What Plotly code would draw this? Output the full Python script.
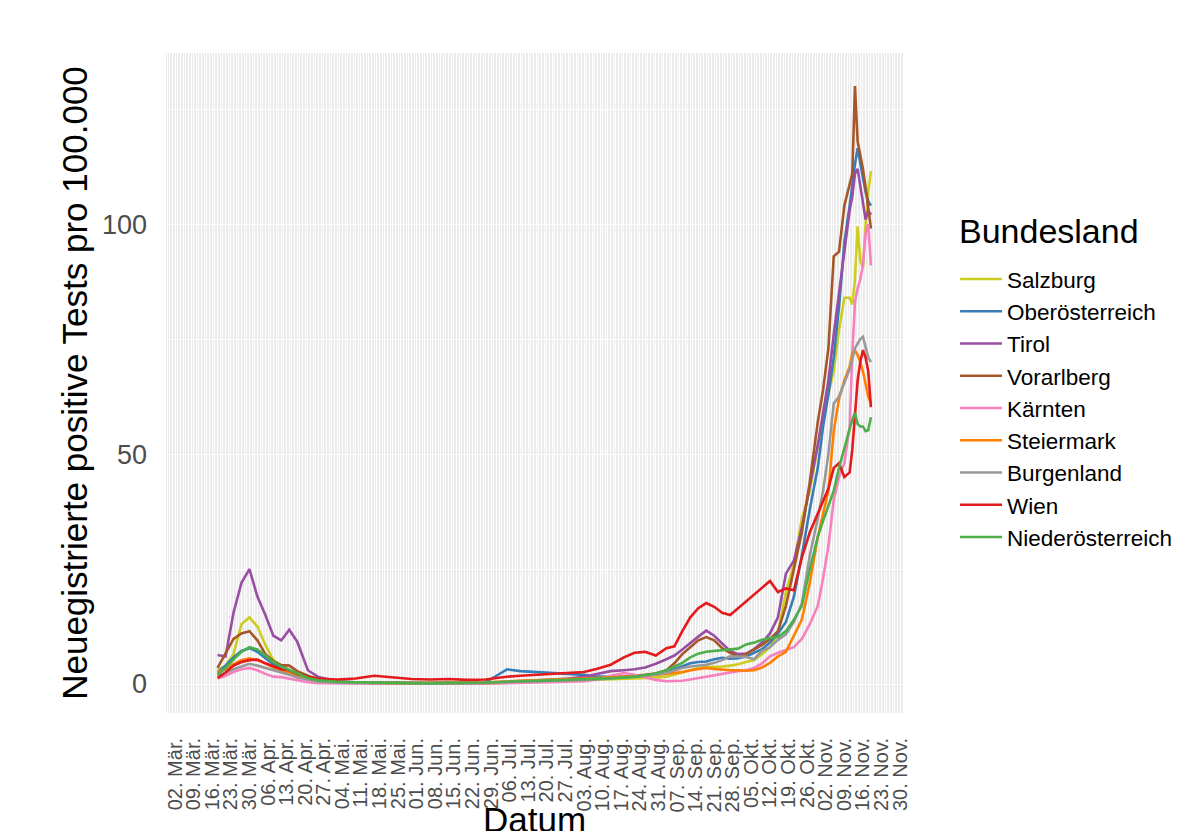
import pandas as pd
import plotly.graph_objects as go


# ── Data (7-day new positive tests per 100.000) ──────────────────────────────

dates = [
    '2020-03-18', '2020-03-21', '2020-03-24', '2020-03-27', '2020-03-30',
    '2020-04-02', '2020-04-05', '2020-04-08', '2020-04-11', '2020-04-14',
    '2020-04-17', '2020-04-21', '2020-04-25', '2020-05-02', '2020-05-09',
    '2020-05-16', '2020-05-23', '2020-05-30', '2020-06-06', '2020-06-13',
    '2020-06-20', '2020-06-27', '2020-07-01', '2020-07-05', '2020-07-10',
    '2020-07-16', '2020-07-22', '2020-07-28', '2020-08-03', '2020-08-08',
    '2020-08-13', '2020-08-18', '2020-08-22', '2020-08-26', '2020-08-30',
    '2020-09-03', '2020-09-06', '2020-09-09', '2020-09-12', '2020-09-15',
    '2020-09-18', '2020-09-21', '2020-09-24', '2020-09-27', '2020-09-30',
    '2020-10-03', '2020-10-06', '2020-10-09', '2020-10-12', '2020-10-15',
    '2020-10-18', '2020-10-21', '2020-10-24', '2020-10-27', '2020-10-30',
    '2020-11-01', '2020-11-03', '2020-11-05', '2020-11-07', '2020-11-09',
    '2020-11-11', '2020-11-12', '2020-11-13', '2020-11-14', '2020-11-15',
    '2020-11-16', '2020-11-17', '2020-11-18', '2020-11-19',
]

salzburg = [
    3.0, 4.0, 6.5, 13.0, 14.5, 12.5, 8.5, 5.2, 4.0, 3.0,
    2.0, 1.2, 0.6, 0.3, 0.2, 0.2, 0.1, 0.1, 0.1, 0.1,
    0.2, 0.2, 0.2, 0.3, 0.4, 0.5, 0.6, 0.7, 0.8, 0.9,
    1.0, 1.1, 1.2, 1.3, 1.4, 1.6, 2.0, 2.5, 3.0, 3.5,
    3.7, 3.7, 3.8, 4.0, 4.3, 4.8, 5.2, 6.5, 8.0, 11.0,
    20.0, 26.0, 36.0, 42.0, 52.0, 58.0, 63.0, 68.0, 77.0, 84.0,
    84.0, 82.5, 88.0, 99.5, 92.0, 90.5, 100.0, 107.0, 111.5,
]
oberoesterreich = [
    2.5, 4.0, 5.8, 7.2, 7.8, 7.0, 5.6, 4.3, 3.5, 2.6,
    1.8, 1.0, 0.6, 0.4, 0.3, 0.3, 0.3, 0.2, 0.2, 0.3,
    0.3, 0.4, 1.8, 3.2, 2.8, 2.6, 2.5, 2.3, 2.0, 1.6,
    1.5, 1.5, 1.6, 1.8, 2.2, 2.6, 3.2, 3.8, 4.5, 4.8,
    4.9, 5.4, 5.7, 5.5, 5.6, 6.0, 6.8, 7.6, 9.0, 11.0,
    13.5, 19.0, 28.0, 38.0, 47.0, 56.0, 63.0, 71.0, 82.0, 96.0,
    104.0, 109.0, 113.0, 116.5, 113.0, 110.0, 107.0, 105.0, 104.0,
]
tirol = [
    6.3, 6.0, 15.5, 22.0, 25.0, 19.0, 15.0, 10.5, 9.5, 11.8,
    9.2, 3.0, 1.5, 0.6, 0.4, 0.3, 0.2, 0.2, 0.1, 0.1,
    0.2, 0.2, 0.3, 0.5, 0.7, 0.8, 1.0, 1.2, 1.6, 2.2,
    2.8, 3.0, 3.2, 3.6, 4.4, 5.4, 6.2, 7.5, 9.0, 10.3,
    11.6, 10.5, 8.8, 7.2, 6.5, 6.6, 7.6, 9.0, 11.0, 14.5,
    24.0, 26.8, 34.0, 43.0, 52.0, 59.0, 66.0, 76.0, 85.0, 95.0,
    103.0, 106.0, 111.0, 112.0, 108.0, 104.0, 101.0, 103.0, 102.0,
]
vorarlberg = [
    3.5, 6.5, 9.8, 11.0, 11.5, 9.5, 6.5, 5.0, 4.1, 4.0,
    2.8, 1.8, 1.0, 0.5, 0.3, 0.2, 0.2, 0.2, 0.1, 0.1,
    0.2, 0.2, 0.3, 0.3, 0.4, 0.6, 0.8, 0.9, 1.0, 1.2,
    1.4, 1.6, 1.8, 2.0, 2.3, 3.0, 4.5, 6.5, 8.0, 9.5,
    10.2, 9.5, 7.8, 6.8, 6.0, 6.5, 7.5, 8.5, 9.8, 11.5,
    17.0, 25.0, 33.0, 44.0, 57.0, 64.0, 73.0, 93.0, 94.0, 104.0,
    109.0, 111.0, 130.0, 118.0, 115.0, 112.0, 108.0, 104.0, 99.0,
]
kaernten = [
    1.2, 1.8, 2.6, 3.2, 3.5, 3.0, 2.2, 1.6, 1.5, 1.2,
    0.8, 0.4, 0.2, 0.1, 0.1, 0.1, 0.1, 0.0, 0.0, 0.1,
    0.1, 0.1, 0.1, 0.2, 0.3, 0.3, 0.4, 0.5, 0.6, 1.0,
    1.8, 2.4, 2.0, 1.5, 0.9, 0.6, 0.6, 0.7, 1.0, 1.3,
    1.6, 2.0, 2.3, 2.5, 2.8, 3.0, 3.5, 4.5, 6.0, 6.8,
    7.4, 8.0, 9.8, 13.0, 17.0, 23.0, 30.0, 40.0, 45.0, 48.0,
    56.0, 72.0, 83.0, 86.0, 88.0, 91.0, 98.0, 100.0, 91.0,
]
steiermark = [
    2.5, 3.2, 4.3, 5.2, 5.6, 5.2, 4.5, 3.6, 3.0, 2.4,
    1.8, 1.2, 0.7, 0.4, 0.3, 0.3, 0.2, 0.2, 0.2, 0.2,
    0.3, 0.4, 0.5, 0.6, 0.8, 0.9, 1.0, 1.1, 1.2, 1.3,
    1.4, 1.5, 1.6, 1.8, 2.0, 2.2, 2.4, 2.6, 3.0, 3.2,
    3.5, 3.3, 3.1, 3.0, 3.0, 2.9, 3.0, 3.6, 4.6, 6.0,
    7.0, 10.5, 14.0, 22.0, 32.0, 37.0, 42.0, 55.0, 62.0, 66.0,
    69.0, 72.0, 72.5, 71.5, 70.0, 68.0, 65.0, 62.5, 61.0,
]
burgenland = [
    1.7, 2.5, 3.2, 3.8, 4.4, 4.0, 3.5, 3.0, 2.6, 2.0,
    1.4, 0.9, 0.5, 0.3, 0.2, 0.2, 0.2, 0.1, 0.1, 0.1,
    0.2, 0.3, 0.3, 0.4, 0.5, 0.6, 0.6, 0.7, 0.8, 1.0,
    1.2, 1.4, 1.6, 1.8, 2.0, 2.4, 3.0, 3.5, 3.8, 4.0,
    4.2, 4.6, 5.2, 6.0, 6.0, 5.9, 5.4, 7.2, 8.0, 9.6,
    10.8, 13.5, 17.5, 28.0, 36.0, 42.0, 50.0, 61.0, 62.5, 65.5,
    68.5, 70.5, 73.0, 74.0, 75.0, 75.5, 73.0, 71.0, 70.0,
]
wien = [
    1.3, 2.5, 4.0, 4.8, 5.2, 5.3, 4.5, 3.8, 3.2, 3.0,
    2.2, 1.6, 1.2, 1.0, 1.2, 1.8, 1.4, 1.1, 1.0, 1.1,
    0.9, 1.0, 1.3, 1.6, 1.8, 2.0, 2.2, 2.4, 2.6, 3.3,
    4.2, 5.8, 6.8, 7.0, 6.2, 7.8, 8.2, 11.5, 14.5, 16.5,
    17.6, 16.8, 15.5, 15.0, 16.5, 17.8, 19.5, 21.0, 22.4, 20.0,
    20.8, 20.4, 27.5, 33.0, 37.0, 40.0, 42.5, 47.0, 48.0, 45.0,
    46.0, 51.0, 58.0, 66.0, 70.0, 72.6, 71.0, 68.0, 60.2,
]
niederoesterreich = [
    2.0, 3.5, 5.3, 7.0, 8.0, 7.5, 6.2, 4.8, 3.8, 3.0,
    2.2, 1.3, 0.8, 0.5, 0.4, 0.3, 0.3, 0.2, 0.2, 0.2,
    0.3, 0.3, 0.4, 0.5, 0.6, 0.7, 0.8, 0.9, 1.0, 1.1,
    1.2, 1.4, 1.6, 1.9, 2.3, 3.0, 3.8, 4.6, 5.8, 6.6,
    7.0, 7.2, 7.4, 7.5, 7.7, 8.6, 9.0, 9.6, 10.0, 10.2,
    11.5, 14.0, 17.0, 25.0, 32.0, 35.5, 39.0, 42.0, 47.0, 51.5,
    55.5, 57.5, 59.0, 56.5, 56.0, 56.0, 55.0, 55.2, 58.0,
]

tick_text = [
    '02. Mär.', '09. Mär.', '16. Mär.', '23. Mär.', '30. Mär.',
    '06. Apr.', '13. Apr.', '20. Apr.', '27. Apr.', '04. Mai.',
    '11. Mai.', '18. Mai.', '25. Mai.', '01. Jun.', '08. Jun.',
    '15. Jun.', '22. Jun.', '29. Jun.', '06. Jul.', '13. Jul.',
    '20. Jul.', '27. Jul.', '03. Aug.', '10. Aug.', '17. Aug.',
    '24. Aug.', '31. Aug.', '07. Sep.', '14. Sep.', '21. Sep.',
    '28. Sep.', '05. Okt.', '12. Okt.', '19. Okt.', '26. Okt.',
    '02. Nov.', '09. Nov.', '16. Nov.', '23. Nov.', '30. Nov.',
]

# ── Styling ───────────────────────────────────────────────────────────────────

STATES = [
    ('Salzburg',         salzburg,          '#CDCD1F'),
    ('Oberösterreich',   oberoesterreich,   '#377EB8'),
    ('Tirol',            tirol,             '#984EA3'),
    ('Vorarlberg',       vorarlberg,        '#A65628'),
    ('Kärnten',          kaernten,          '#F781BF'),
    ('Steiermark',       steiermark,        '#FF7F00'),
    ('Burgenland',       burgenland,        '#999999'),
    ('Wien',             wien,              '#E41A1C'),
    ('Niederösterreich', niederoesterreich, '#4DAF4A'),
]

FONT = 'Liberation Sans'
tick_vals = pd.date_range('2020-03-02', '2020-11-30', freq='7D')

fig = go.Figure()
for name, values, color in STATES:
    fig.add_trace(go.Scatter(
        x=dates, y=values, name=name, mode='lines',
        line=dict(color=color, width=2.6), legendgroup=name
    ))

# legend title drawn as annotation so the gap to the entries matches
fig.add_annotation(
    text='Bundesland', xref='paper', yref='paper',
    x=1.0733, y=0.7303, xanchor='left', yanchor='middle',
    showarrow=False, font=dict(size=34, color='black')
)

fig.update_layout(
    width=1200, height=831,
    margin=dict(l=158, r=305, t=45, b=126),
    paper_bgcolor='white', plot_bgcolor='#EBEBEB',
    font=dict(family=FONT, color='black'),
    showlegend=True,
    legend=dict(
        x=1.0706, y=0.6895, xanchor='left', yanchor='top',
        font=dict(size=22.5, color='black'),
        itemwidth=42, tracegroupgap=0, bgcolor='rgba(0,0,0,0)'
    ),
    xaxis=dict(
        range=['2020-02-27 14:00', '2020-12-01 02:00'],
        tickmode='array', tickvals=tick_vals, ticktext=tick_text,
        tickangle=-90, tickfont=dict(size=20, color='#4D4D4D'),
        showgrid=True, gridcolor='white', gridwidth=1,
        minor=dict(dtick=86400000, tick0='2020-03-02', showgrid=True,
                   gridcolor='white', gridwidth=0.5),
        zeroline=False, ticks='', ticklabelstandoff=20,
        title=dict(text='Datum', font=dict(size=35, color='black'), standoff=24),
        automargin=False
    ),
    yaxis=dict(
        range=[-6.3, 137.2],
        tickmode='array', tickvals=[0, 50, 100],
        tickfont=dict(size=27, color='#4D4D4D'),
        showgrid=True, gridcolor='white', gridwidth=1.2,
        minor=dict(tickvals=[25, 75, 125], showgrid=True,
                   gridcolor='white', gridwidth=0.6),
        zeroline=False, ticks='', ticklabelstandoff=18,
        title=dict(text='Neuegistrierte positive Tests pro 100.000',
                   font=dict(size=35, color='black'), standoff=3),
        automargin=False
    ),
)

fig.write_html('out.html')
